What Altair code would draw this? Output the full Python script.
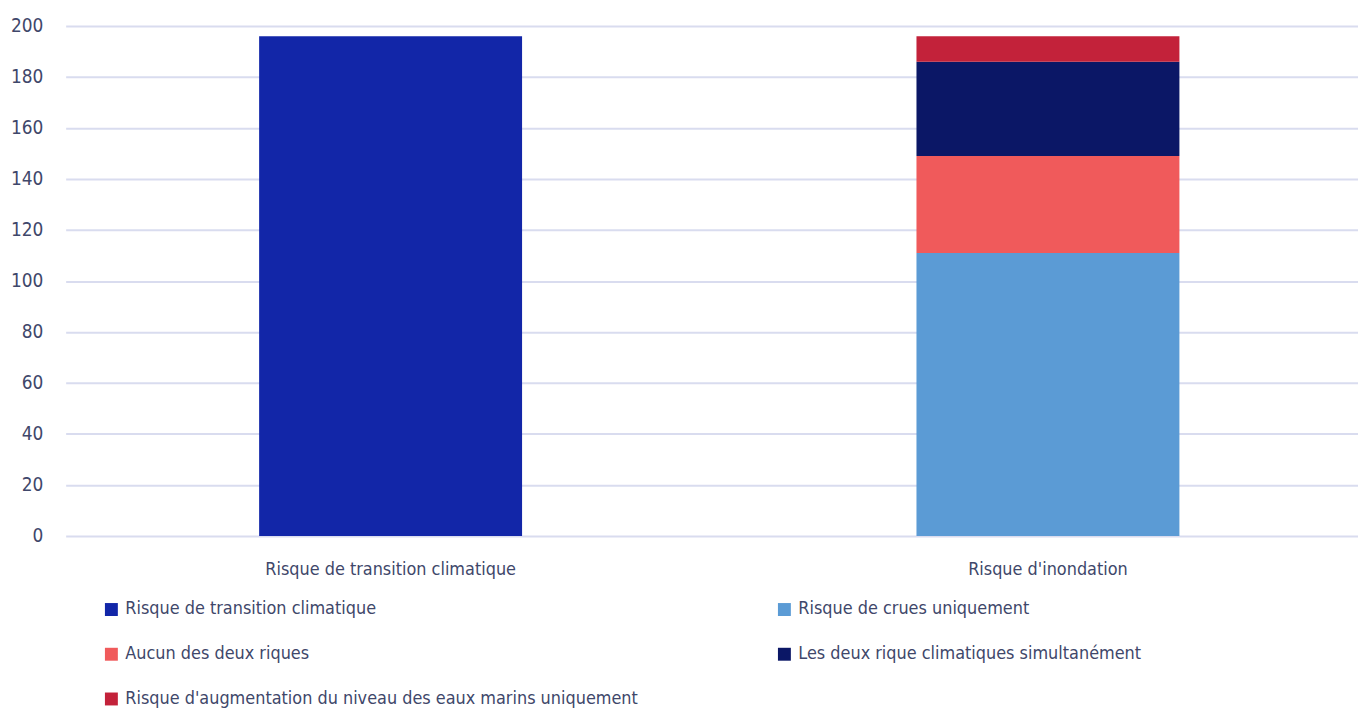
import altair as alt
import pandas as pd

categories = ["Risque de transition climatique", "Risque d'inondation"]
series = [
    "Risque de transition climatique",
    "Risque de crues uniquement",
    "Aucun des deux riques",
    "Les deux rique climatiques simultanément",
    "Risque d'augmentation du niveau des eaux marins uniquement",
]
bar_category = [categories[0], categories[1], categories[1], categories[1], categories[1]]
values = [196, 111, 38, 37, 10]
stack_order = [0, 0, 1, 2, 3]
colors = ["#1226A8", "#5B9BD5", "#F05A5B", "#0B1766", "#C3223A"]
y_ticks = [0, 20, 40, 60, 80, 100, 120, 140, 160, 180, 200]

df = pd.DataFrame({
    "categorie": bar_category,
    "serie": series,
    "valeur": values,
    "ordre": stack_order,
})

FONT = "Liberation Sans Narrow, DejaVu Sans Condensed, sans-serif"
TXT = "#40476a"

chart = alt.Chart(df).mark_bar().encode(
    x=alt.X(
        "categorie:N", sort=categories, title=None,
        scale=alt.Scale(paddingInner=0.6, paddingOuter=0.283, align=0.52),
        axis=alt.Axis(labelAngle=0, domain=False, ticks=False, labelPadding=25,
                      labelFontSize=18, labelFont=FONT, labelColor=TXT, grid=False,
                      labelLimit=1000),
    ),
    y=alt.Y(
        "valeur:Q", stack="zero", title=None,
        scale=alt.Scale(domain=[0, 200], nice=False),
        axis=alt.Axis(values=y_ticks, domain=False, ticks=False, labelPadding=23,
                      labelFontSize=19, labelFont=FONT, labelColor=TXT,
                      gridColor="#d9dcef", gridWidth=2),
    ),
    color=alt.Color(
        "serie:N",
        scale=alt.Scale(domain=series, range=colors),
        legend=alt.Legend(
            title=None, orient="none", legendX=37, legendY=578,
            direction="horizontal", columns=2, columnPadding=137, rowPadding=27,
            symbolType="square", symbolSize=169, symbolStrokeWidth=0,
            labelFontSize=18, labelFont=FONT, labelColor=TXT, labelOffset=5,
            labelLimit=1000,
        ),
    ),
    order=alt.Order("ordre:Q", sort="ascending"),
).properties(
    width=1300, height=513,
    autosize=alt.AutoSizeParams(type="none"),
    padding={"left": 58, "top": 16, "right": 0, "bottom": 172},
).configure_view(stroke=None)

chart.save("out.html", embed_options={"renderer": "svg", "actions": False})
